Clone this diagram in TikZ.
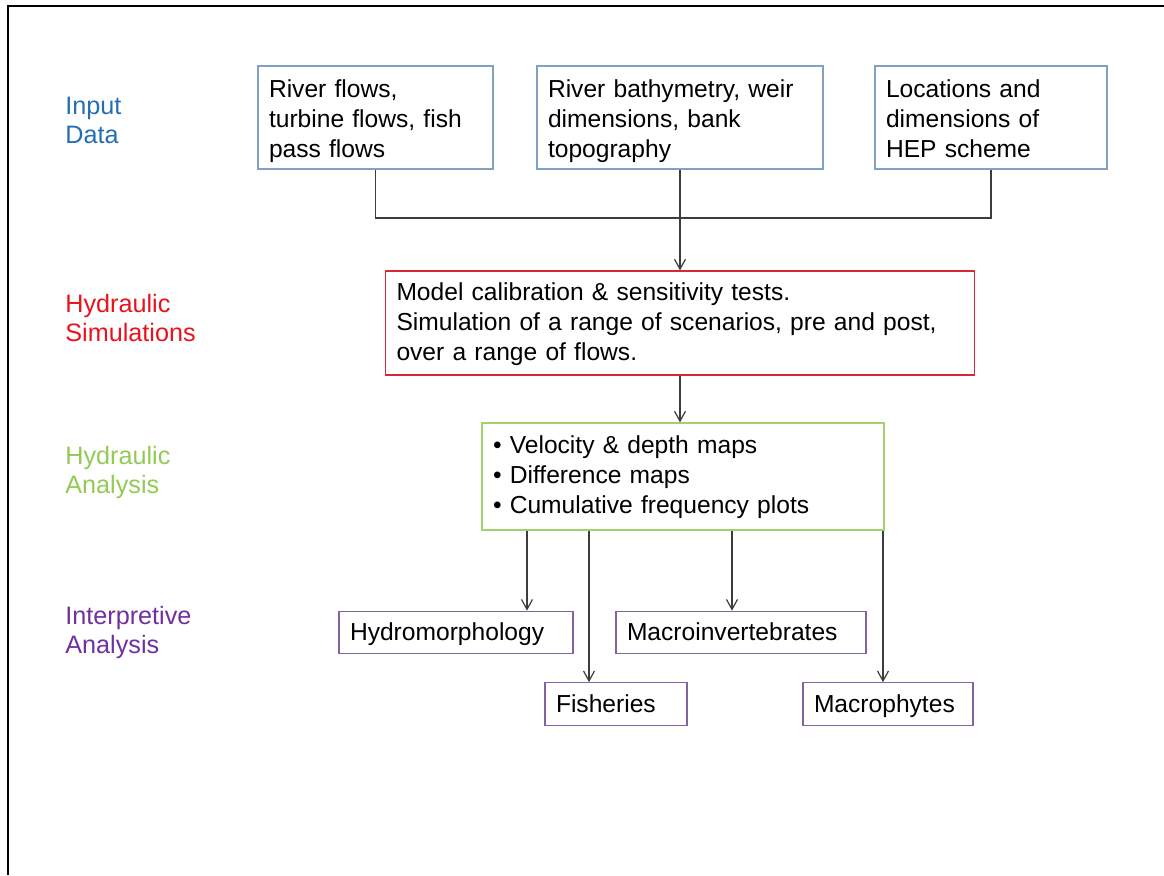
\documentclass[tikz,border=0pt]{standalone}
\usepackage{fontspec}
\setmainfont{Liberation Sans}
\usetikzlibrary{arrows.meta,positioning}
\definecolor{inputblue}{RGB}{36,110,180}
\definecolor{simred}{RGB}{232,18,30}
\definecolor{anagreen}{RGB}{146,202,86}
\definecolor{interpurple}{RGB}{112,48,160}
\definecolor{inputborder}{RGB}{130,160,192}
\definecolor{simborder}{RGB}{215,40,55}
\definecolor{anaborder}{RGB}{160,210,110}
\definecolor{interborder}{RGB}{128,100,162}
\definecolor{linkgray}{RGB}{60,60,60}
\newcommand{\stagefont}{\fontsize{12.6}{14.5}\selectfont}
\newcommand{\boxtextfont}{\fontsize{12.3}{15}\selectfont}

\begin{document}
\begin{tikzpicture}[
  x=0.5pt, y=-0.5pt,
  stage/.style={
    font=\stagefont,
    align=left,
    inner sep=0pt,
    anchor=north west
  },
  databox/.style={
    draw=inputborder,
    line width=0.6pt,
    inner xsep=5.5pt,
    inner ysep=0pt,
    text height=15.5pt,
    text depth=36pt,
    align=left,
    font=\boxtextfont
  },
  simbox/.style={databox, draw=simborder, text height=14.5pt, text depth=37.5pt},
  anabox/.style={databox, draw=anaborder, text height=15pt, text depth=38.5pt},
  resultbox/.style={databox, draw=interborder, text height=14.75pt, text depth=6.5pt},
  link/.style={draw=linkgray, line width=0.6pt},
  arrow/.style={link, -{Straight Barb[length=5pt,width=5.5pt]}}
]
\useasboundingbox (0,0) rectangle (1164,875);

% Slide frame
\draw[line width=1pt] (8,875) -- (8,6) -- (1164,6);

% Stage labels
\node[stage, text=inputblue] (lblinput) at (65,97) {Input\\Data};
\node[stage, text=simred] (lblsim) at (65,294) {Hydraulic\\Simulations};
\node[stage, text=anagreen] (lblana) at (65,446) {Hydraulic\\Analysis};
\node[stage, text=interpurple] (lblinter) at (65,606) {Interpretive\\Analysis};

% Input data
\node[databox, text width=106.5pt] (flows) at (375.5,117.5)
  {River flows,\\turbine flows, fish\\pass flows};
\node[databox, text width=132pt] (bathy) at (680,117.5)
  {River bathymetry, weir\\dimensions, bank\\topography};
\node[databox, text width=105pt] (hep) at (991,117.5)
  {Locations and\\dimensions of\\HEP scheme};

% Hydraulic simulations
\node[simbox, text width=283.5pt] (sim) at (680,323)
  {Model calibration \& sensitivity tests.\\
   Simulation of a range of scenarios, pre and post,\\
   over a range of flows.};

% Hydraulic analysis
\node[anabox, text width=190pt] (ana) at (683,476.5)
  {• Velocity \& depth maps\\
   • Difference maps\\
   • Cumulative frequency plots};

% Interpretive analysis
\node[resultbox, text width=106pt] (hydro) at (456,632.5) {Hydromorphology};
\node[resultbox, text width=114pt] (macroinv) at (741,632.5) {Macroinvertebrates};
\node[resultbox, text width=60pt] (fish) at (616,704) {Fisheries};
\node[resultbox, text width=74pt] (macroph) at (888,704) {Macrophytes};

% Inputs into the model
\coordinate (join) at (680,218);
\draw[link] (flows.south) |- (join) -| (hep.south);
\draw[arrow] (bathy.south) -- (sim.north);
\draw[arrow] (sim.south) -- (sim.south |- ana.north);

% Analysis outputs
\coordinate (outhydro) at ([xshift=-78pt]ana.south);
\coordinate (outfish) at ([xshift=-47pt]ana.south);
\coordinate (outinv) at ([xshift=24.5pt]ana.south);
\coordinate (outphyt) at ([xshift=100pt]ana.south);
\draw[arrow] (outhydro) -- (outhydro |- hydro.north);
\draw[arrow] (outfish) -- (outfish |- fish.north);
\draw[arrow] (outinv) -- (outinv |- macroinv.north);
\draw[arrow] (outphyt) -- (outphyt |- macroph.north);

\end{tikzpicture}
\end{document}
